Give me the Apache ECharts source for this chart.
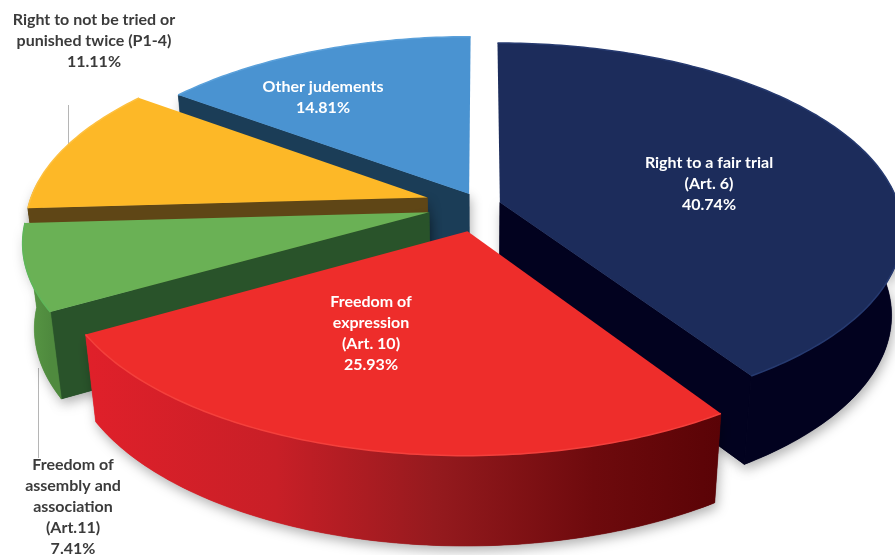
<!DOCTYPE html>
<html>
<head>
<meta charset="utf-8">
<style>html,body{margin:0;padding:0;background:#fff;overflow:hidden}#chart{width:895px;height:555px}</style>
<script src="https://cdn.jsdelivr.net/npm/echarts@6/dist/echarts.min.js"></script>
</head>
<body>
<div id="chart"></div>
<script>
// Share of judgments per Convention right, clockwise from twelve o'clock.
const categories = [
  ['Right to a fair trial', '(Art. 6)'],
  ['Freedom of', 'expression', '(Art. 10)'],
  ['Freedom of', 'assembly and', 'association', '(Art.11)'],
  ['Right to not be tried or', 'punished twice (P1-4)'],
  ['Other judements']
];
const values = [40.74, 25.93, 7.41, 11.11, 14.81];

// Radial pull of every slice, as a fraction of the radius.
const explode = [0.048, 0.14, 0.131, 0.137, 0.065];
// Painter's order: back slices first.
const paintRank = [3, 4, 2, 1, 0];

const faceColors = ['#1c2c5b', '#ee2d2b', '#6ab155', '#fdb827', '#4a93d1'];
const wallColors = ['#02021f', '#5e0508', '#29532a', '#5f4616', '#1b3d57'];
const rimColors = ['#263a70', '#f4403c', '#5fb75a', '#fdc040', '#5aa0da'];
const outerStops = [
  [[0, '#02021f'], [1, '#02021f']],
  [[0, '#e0202a'], [0.3, '#c81f27'], [0.55, '#951a1e'], [0.8, '#6e0a0d'], [1, '#5a0306']],
  [[0, '#5a9a46'], [1, '#4f8a3e']],
  [[0, '#5f4616'], [1, '#5f4616']],
  [[0, '#1b3d57'], [1, '#1b3d57']]
];

// Layout of the projected disc.
const centre = { x: 481, y: 205 };
const radiusX = 411, radiusY = 189, rimScale = 0.97, perspective = 0.15, depth = 84;
const vanishX = 480, converge = 0.0256;

// Where each text block is centred, and whether it sits on its slice.
const labelAnchors = [[709, 184], [371, 333], [73, 507], [94, 41], [323, 97]];
const labelInside = [true, true, false, false, true];
const leaders = [[[68, 105], [68, 148]], [[38, 368], [38, 458]]];

const total = values.reduce((a, b) => a + b, 0);

function project(theta, r, pull, midTheta, lowered) {
  const X = r * Math.sin(theta) + pull * Math.sin(midTheta);
  const Y = r * Math.cos(theta) + pull * Math.cos(midTheta);
  const s = 1 / (1 + perspective * Y);
  let x = centre.x + radiusX * X * s;
  let y = centre.y - radiusY * Y * s;
  if (lowered) {
    x += (vanishX - x) * converge;
    y += depth * Math.pow(s, 0.4);
  }
  return [x, y];
}

function arcAngles(a0, a1) {
  const out = [];
  const n = Math.max(8, Math.ceil((a1 - a0) * 60));
  for (let k = 0; k <= n; k++) out.push(a0 + (a1 - a0) * k / n);
  return out;
}

const shadow = { shadowBlur: 12, shadowColor: 'rgba(0,0,0,0.3)', shadowOffsetY: 5, shadowOffsetX: 2 };

function renderSlice(params, api) {
  const i = api.value(0);
  let before = 0;
  for (let k = 0; k < i; k++) before += values[k];
  const a0 = before / total * 2 * Math.PI;
  const a1 = (before + api.value(1)) / total * 2 * Math.PI;
  const mid = (a0 + a1) / 2;
  const pull = explode[i];
  const z = paintRank[i] * 10;
  const children = [];

  const angles = arcAngles(a0, a1);
  const rimTop = angles.map(t => project(t, rimScale, pull, mid, false));
  const apexTop = project(0, 0, pull, mid, false);
  const apexBottom = project(0, 0, pull, mid, true);

  // A solid part is laid down twice: once for its cast shadow, once clean on top.
  const solid = (points, fill) => {
    children.push({
      type: 'polygon', z2: z,
      shape: { points },
      style: Object.assign({ fill }, shadow)
    });
    children.push({
      type: 'polygon', z2: z + 1,
      shape: { points },
      style: { fill, stroke: fill, lineWidth: 0.6 }
    });
  };

  // Radial walls are only seen when they face the viewer.
  const wall = t => [apexTop, project(t, rimScale, pull, mid, false),
    project(t, rimScale, pull, mid, true), apexBottom];
  if (Math.sin(a0) < -1e-6) solid(wall(a0), wallColors[i]);
  if (Math.sin(a1) > 1e-6) solid(wall(a1), wallColors[i]);

  // Outer wall, front part only, shaded left to right.
  const front = angles.filter(t => Math.cos(t) < 0.1);
  if (front.length > 1) {
    const top = front.map(t => project(t, rimScale, pull, mid, false));
    const bottom = front.map(t => project(t, rimScale, pull, mid, true));
    const xs = top.map(p => p[0]);
    solid(top.concat(bottom.reverse()), {
      type: 'linear', global: true,
      x: Math.min.apply(null, xs), y: 0, x2: Math.max.apply(null, xs), y2: 0,
      colorStops: outerStops[i].map(s => ({ offset: s[0], color: s[1] }))
    });
  }

  // Top face and its soft bevel.
  children.push({
    type: 'polygon', z2: z + 3,
    shape: { points: [apexTop].concat(rimTop) },
    style: { fill: faceColors[i] }
  });
  children.push({
    type: 'polyline', z2: z + 4,
    shape: { points: rimTop },
    style: { fill: null, stroke: rimColors[i], lineWidth: 1.5 }
  });

  // Caption.
  const lines = categories[i].concat([api.value(1).toFixed(2) + '%']);
  children.push({
    type: 'text', z2: 200,
    x: labelAnchors[i][0], y: labelAnchors[i][1],
    style: {
      text: lines.join('\n'),
      font: 'bold 16px Lato, Carlito, sans-serif',
      lineHeight: 21,
      fill: labelInside[i] ? '#ffffff' : '#3b3b3b',
      align: 'center', verticalAlign: 'middle'
    }
  });
  return { type: 'group', children };
}

const chart = echarts.init(document.getElementById('chart'), null, { renderer: 'canvas' });
chart.setOption({
  animation: false,
  backgroundColor: '#ffffff',
  graphic: leaders.map(l => ({
    type: 'line', z: 0,
    shape: { x1: l[0][0] + 0.5, y1: l[0][1], x2: l[1][0] + 0.5, y2: l[1][1] },
    style: { stroke: '#b5b5b5', lineWidth: 1 }
  })),
  series: [{
    type: 'custom',
    coordinateSystem: 'none',
    clip: false,
    silent: true,
    data: values.map((v, i) => [i, v]),
    renderItem: renderSlice
  }]
});
</script>
</body>
</html>
